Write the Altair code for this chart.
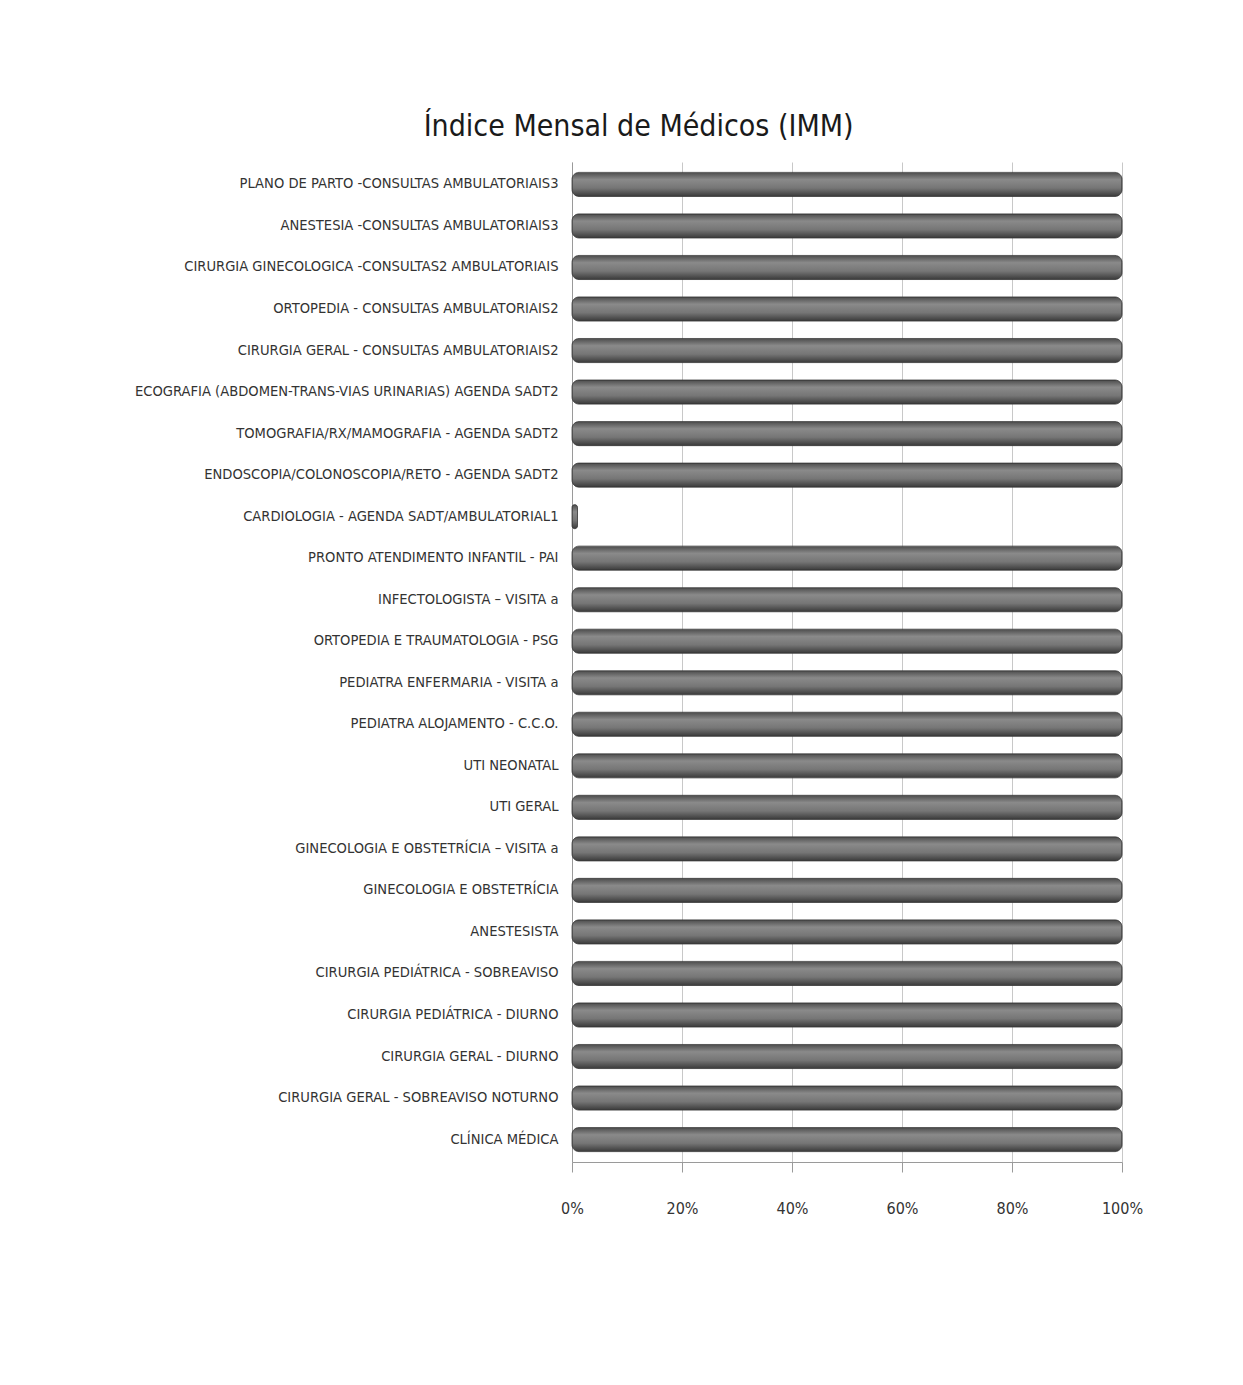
import altair as alt
import pandas as pd

categorias = [
    "PLANO DE PARTO -CONSULTAS AMBULATORIAIS3",
    "ANESTESIA -CONSULTAS AMBULATORIAIS3",
    "CIRURGIA GINECOLOGICA -CONSULTAS2 AMBULATORIAIS",
    "ORTOPEDIA - CONSULTAS AMBULATORIAIS2",
    "CIRURGIA GERAL - CONSULTAS AMBULATORIAIS2",
    "ECOGRAFIA (ABDOMEN-TRANS-VIAS URINARIAS) AGENDA SADT2",
    "TOMOGRAFIA/RX/MAMOGRAFIA - AGENDA SADT2",
    "ENDOSCOPIA/COLONOSCOPIA/RETO - AGENDA SADT2",
    "CARDIOLOGIA - AGENDA SADT/AMBULATORIAL1",
    "PRONTO ATENDIMENTO INFANTIL - PAI",
    "INFECTOLOGISTA – VISITA a",
    "ORTOPEDIA E TRAUMATOLOGIA - PSG",
    "PEDIATRA ENFERMARIA - VISITA a",
    "PEDIATRA ALOJAMENTO - C.C.O.",
    "UTI NEONATAL",
    "UTI GERAL",
    "GINECOLOGIA E OBSTETRÍCIA – VISITA a",
    "GINECOLOGIA E OBSTETRÍCIA",
    "ANESTESISTA",
    "CIRURGIA PEDIÁTRICA  - SOBREAVISO",
    "CIRURGIA PEDIÁTRICA  - DIURNO",
    "CIRURGIA GERAL - DIURNO",
    "CIRURGIA GERAL - SOBREAVISO NOTURNO",
    "CLÍNICA MÉDICA",
]
valores = [1.0] * 8 + [0.01] + [1.0] * 15

df = pd.DataFrame({"categoria": categorias, "valor": valores})

FONT = "Liberation Sans Narrow, DejaVu Sans Condensed, Roboto Condensed, Liberation Sans, sans-serif"

grad = alt.Gradient(
    gradient="linear",
    stops=[
        alt.GradientStop(color="#4c4c4c", offset=0),
        alt.GradientStop(color="#8a8a8a", offset=0.3),
        alt.GradientStop(color="#767676", offset=0.65),
        alt.GradientStop(color="#3a3a3a", offset=1),
    ],
    x1=0, x2=0, y1=0, y2=1,
)

chart = (
    alt.Chart(df)
    .mark_bar(color=grad, cornerRadius=7, stroke="#3a3a3a", strokeWidth=0.8)
    .encode(
        x=alt.X(
            "valor:Q",
            scale=alt.Scale(domain=[0, 1], nice=False),
            axis=alt.Axis(
                format=".0%",
                values=[0, 0.2, 0.4, 0.6, 0.8, 1.0],
                title=None,
                grid=True,
                gridColor="#c8c8c8",
                domainColor="#9a9a9a",
                tickColor="#9a9a9a",
                tickSize=10,
                labelFont=FONT,
                labelFontSize=16,
                labelColor="#333333",
                labelPadding=28,
                labelFlush=False,
            ),
        ),
        y=alt.Y(
            "categoria:N",
            sort=categorias,
            scale=alt.Scale(paddingInner=0.42, paddingOuter=0.25),
            axis=alt.Axis(
                title=None,
                ticks=False,
                domainColor="#9a9a9a",
                labelFont=FONT,
                labelFontSize=14.6,
                labelColor="#333333",
                labelLimit=600,
                labelPadding=14,
            ),
        ),
    )
    .properties(
        width=550,
        height=1000,
        title=alt.TitleParams(
            "Índice Mensal de Médicos  (IMM)",
            font=FONT,
            fontSize=30,
            fontWeight="normal",
            color="#1a1a1a",
            anchor="middle",
            frame="bounds",
            offset=20,
        ),
        autosize=alt.AutoSizeParams(type="none"),
        padding={"left": 572, "top": 162, "right": 121, "bottom": 200},
    )
    .configure_view(stroke=None)
)

chart.save("out.html", embed_options={"renderer": "svg", "actions": False})
